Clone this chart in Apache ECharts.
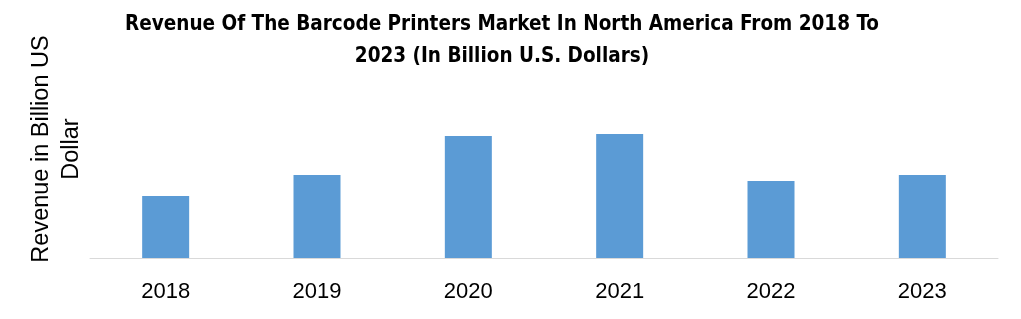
<!DOCTYPE html>
<html>
<head>
<meta charset="utf-8">
<script src="https://cdn.jsdelivr.net/npm/echarts@6/dist/echarts.min.js"></script>
<style>
html,body{margin:0;padding:0;background:#fff;}
#chart{width:1021px;height:319px;}
</style>
</head>
<body>
<div id="chart"></div>
<script>
const categories = ['2018', '2019', '2020', '2021', '2022', '2023'];
const revenue = [0.62, 0.83, 1.22, 1.24, 0.77, 0.83];
const titleText = 'Revenue Of The Barcode Printers Market In North America From 2018 To\n2023 (In Billion U.S. Dollars)';
const yAxisTitle = 'Revenue in Billion US\nDollar';

const chart = echarts.init(document.getElementById('chart'), null, {renderer: 'canvas'});
chart.setOption({
  backgroundColor: '#ffffff',
  animation: false,
  title: {
    text: titleText,
    left: 497,
    top: 4,
    textAlign: 'center',
    textStyle: {
      fontFamily: 'DejaVu Sans Condensed',
      fontWeight: 'bold',
      fontSize: 20.5,
      lineHeight: 32,
      color: '#000000'
    }
  },
  grid: {left: 90, right: 23, top: 48, bottom: 61},
  xAxis: {
    type: 'category',
    data: categories,
    axisLine: {lineStyle: {color: '#d9d9d9', width: 1}},
    axisTick: {show: false},
    axisLabel: {fontFamily: 'Liberation Sans', fontSize: 22, color: '#000000', margin: 23}
  },
  yAxis: {
    type: 'value',
    min: 0,
    max: 2.1,
    axisLine: {show: false},
    axisTick: {show: false},
    axisLabel: {show: false},
    splitLine: {show: false}
  },
  graphic: [{
    type: 'text',
    x: 57,
    y: 149,
    rotation: Math.PI / 2,
    style: {
      text: yAxisTitle,
      fontFamily: 'Liberation Sans',
      fontSize: 23.5,
      lineHeight: 30,
      fill: '#000000',
      align: 'center',
      verticalAlign: 'middle'
    }
  }],
  series: [{
    type: 'bar',
    data: revenue,
    barWidth: 47,
    itemStyle: {color: '#5b9bd5'}
  }]
});
</script>
</body>
</html>
